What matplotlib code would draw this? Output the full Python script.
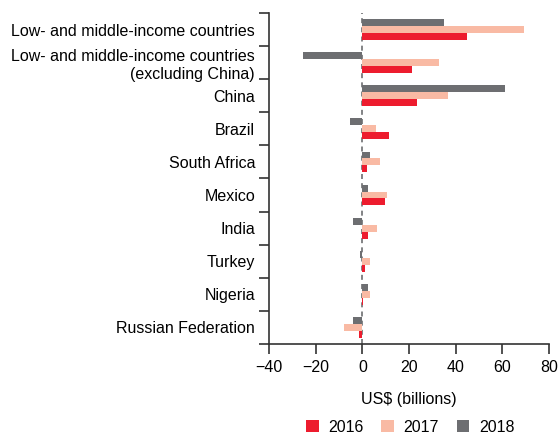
import numpy as np
import matplotlib.pyplot as plt

plt.rcParams['font.family'] = ['Liberation Sans', 'DejaVu Sans']

categories = ['Low- and middle-income countries',
              'Low- and middle-income countries\n(excluding China)',
              'China', 'Brazil', 'South Africa', 'Mexico', 'India',
              'Turkey', 'Nigeria', 'Russian Federation']
v2016 = [44.8, 21.4, 23.6, 11.3, 1.8, 9.6, 2.4, 1.0, 0.5, -1.6]
v2017 = [69.3, 33.0, 36.5, 5.7, 7.7, 10.4, 6.1, 3.4, 3.1, -7.8]
v2018 = [35.2, -25.5, 61.0, -5.3, 3.1, 2.3, -4.2, -0.9, 2.3, -3.9]
years = ['2016', '2017', '2018']
colors = ['#ED1C2E', '#F9BAA4', '#6D6E71']

fig = plt.figure(figsize=(5.58, 4.38), dpi=100)
ax = fig.add_axes([0.482, 0.215, 0.502, 0.755])

y = np.arange(len(categories))
h = 0.21
ax.barh(y + h, v2016, height=h, color=colors[0], label=years[0])
ax.barh(y, v2017, height=h, color=colors[1], label=years[1])
ax.barh(y - h, v2018, height=h, color=colors[2], label=years[2])

ax.axvline(0, color='#6D6E71', lw=1.2, ls=(0, (3, 2.5)), zorder=0)

ax.set_ylim(len(categories) - 0.5, -0.5)
ax.set_xlim(-40, 80)
ax.set_xticks([-40, -20, 0, 20, 40, 60, 80])
ax.set_xticklabels(['\u221240', '\u221220', '0', '20', '40', '60', '80'])

ax.set_yticks(y)
ax.set_yticklabels(categories)
ax.set_yticks(np.arange(len(categories) + 1) - 0.5, minor=True)
ax.tick_params(axis='y', which='major', length=0, pad=10, labelsize=11.5)
ax.tick_params(axis='y', which='minor', length=7, width=1.2, color='#333333')
ax.tick_params(axis='x', length=7, width=1.2, color='#333333', labelsize=11.5, pad=5)

for s in ['top', 'right']:
    ax.spines[s].set_visible(False)
for s in ['left', 'bottom']:
    ax.spines[s].set_color('#333333')
    ax.spines[s].set_linewidth(1.2)

ax.set_xlabel('US$ (billions)', fontsize=11.5, labelpad=12)

fig.legend(loc='lower center', bbox_to_anchor=(0.735, -0.025), ncol=3,
           frameon=False, fontsize=11.5, handlelength=0.8, handleheight=0.8,
           columnspacing=1.1, handletextpad=0.6)

fig.savefig('out.png', dpi=100)
